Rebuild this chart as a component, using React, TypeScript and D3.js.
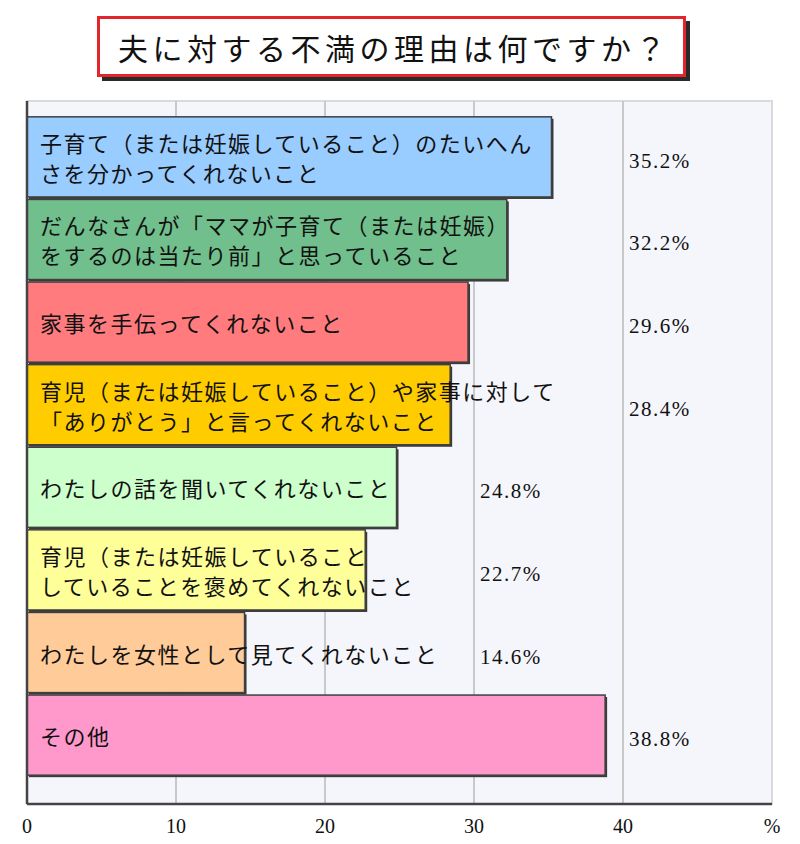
import * as d3 from 'd3';
import { useEffect, useRef } from 'react';

const TITLE = '夫に対する不満の理由は何ですか？';

const categories = ['c1', 'c2', 'c3', 'c4', 'c5', 'c6', 'c7', 'c8'];

const labelLines: string[][] = [
    ['子育て（または妊娠していること）のたいへん', 'さを分かってくれないこと'],
    ['だんなさんが「ママが子育て（または妊娠）', 'をするのは当たり前」と思っていること'],
    ['家事を手伝ってくれないこと'],
    ['育児（または妊娠していること）や家事に対して', '「ありがとう」と言ってくれないこと'],
    ['わたしの話を聞いてくれないこと'],
    ['育児（または妊娠していること', 'していることを褒めてくれないこと'],
    ['わたしを女性として見てくれないこと'],
    ['その他'],
];

const values = [35.2, 32.2, 29.6, 28.4, 24.8, 22.7, 14.6, 38.8];

const barColors = ['#99ccff', '#70bf8c', '#ff7b7e', '#ffcc00', '#ccffcc', '#ffff99', '#ffcc99', '#ff99cc'];

const xTicks = [0, 10, 20, 30, 40, 50];
const xTickLabels = ['0', '10', '20', '30', '40', '%'];

const WIDTH = 800;
const HEIGHT = 844;

const App = () => {
    const svgRef = useRef<SVGSVGElement | null>(null);

    useEffect(() => {
        if (!svgRef.current) return;
        const svg = d3.select(svgRef.current);
        svg.selectAll('*').remove();

        const plot = { left: 27, right: 772, top: 101, bottom: 804 };

        const x = d3.scaleLinear().domain([0, 50]).range([plot.left, plot.right]);
        const y = d3
            .scaleBand<string>()
            .domain(categories)
            .range([116, 776])
            .paddingInner(0.03)
            .paddingOuter(0.01);

        // Title box with shadow
        svg.append('rect')
            .attr('x', 102)
            .attr('y', 21)
            .attr('width', 588)
            .attr('height', 60)
            .attr('fill', '#2a2a2a');
        svg.append('rect')
            .attr('x', 98.5)
            .attr('y', 17.5)
            .attr('width', 586)
            .attr('height', 58)
            .attr('fill', '#ffffff')
            .attr('stroke', '#e3262b')
            .attr('stroke-width', 3);
        svg.append('text')
            .attr('x', 394)
            .attr('y', 47)
            .attr('text-anchor', 'middle')
            .attr('dominant-baseline', 'central')
            .style('font-family', '"Noto Sans CJK JP", sans-serif')
            .style('font-size', '30px')
            .style('letter-spacing', '4.5px')
            .attr('fill', '#111')
            .text(TITLE);

        // Plot background
        svg.append('rect')
            .attr('x', plot.left)
            .attr('y', plot.top)
            .attr('width', plot.right - plot.left)
            .attr('height', plot.bottom - plot.top)
            .attr('fill', '#f5f6fb')
            .attr('stroke', '#dadada')
            .attr('stroke-width', 2);

        // Vertical grid lines
        svg.append('g')
            .selectAll('line')
            .data(xTicks.slice(1, -1))
            .join('line')
            .attr('x1', (d) => x(d))
            .attr('x2', (d) => x(d))
            .attr('y1', plot.top)
            .attr('y2', plot.bottom)
            .attr('stroke', '#c9c9c9')
            .attr('stroke-width', 2);

        // Bars
        const rows = svg
            .append('g')
            .selectAll('g')
            .data(categories)
            .join('g')
            .attr('transform', (d) => `translate(0,${y(d)})`);

        rows.append('rect')
            .attr('x', x(0) + 2)
            .attr('y', 2)
            .attr('width', (_, i) => x(values[i]) - x(0))
            .attr('height', y.bandwidth())
            .attr('fill', '#3a3a3a');

        rows.append('rect')
            .attr('x', x(0))
            .attr('y', 0)
            .attr('width', (_, i) => x(values[i]) - x(0))
            .attr('height', y.bandwidth())
            .attr('fill', (_, i) => barColors[i])
            .attr('stroke', '#404040')
            .attr('stroke-width', 1.5);

        // Labels inside bars
        rows.each(function (_, i) {
            const lines = labelLines[i];
            const mid = y.bandwidth() / 2;
            const gap = 30;
            const start = mid - ((lines.length - 1) * gap) / 2;
            d3.select(this)
                .selectAll('text.cat')
                .data(lines)
                .join('text')
                .attr('class', 'cat')
                .attr('x', x(0) + 13)
                .attr('y', (_, j) => start + j * gap)
                .attr('dominant-baseline', 'central')
                .style('font-family', '"Noto Sans CJK JP", sans-serif')
                .style('font-size', '22px')
                .style('letter-spacing', '1.5px')
                .attr('fill', '#111')
                .text((t) => t);
        });

        // Value labels
        rows.append('text')
            .attr('x', (_, i) => x(values[i] > 25 ? 40 : 30) + 6)
            .attr('y', y.bandwidth() / 2 + 4)
            .attr('dominant-baseline', 'central')
            .style('font-family', '"Liberation Serif", serif')
            .style('font-size', '21px')
            .style('letter-spacing', '1.5px')
            .attr('fill', '#111')
            .text((_, i) => `${values[i].toFixed(1)}%`);

        // Axes lines
        svg.append('line')
            .attr('x1', plot.left)
            .attr('x2', plot.left)
            .attr('y1', plot.top)
            .attr('y2', plot.bottom)
            .attr('stroke', '#444')
            .attr('stroke-width', 2.5);
        svg.append('line')
            .attr('x1', plot.left)
            .attr('x2', plot.right)
            .attr('y1', plot.bottom)
            .attr('y2', plot.bottom)
            .attr('stroke', '#444')
            .attr('stroke-width', 2.5);

        // Tick labels
        svg.append('g')
            .selectAll('text')
            .data(xTicks)
            .join('text')
            .attr('x', (d) => x(d))
            .attr('y', 826)
            .attr('text-anchor', 'middle')
            .attr('dominant-baseline', 'central')
            .style('font-family', '"Liberation Serif", serif')
            .style('font-size', '20px')
            .attr('fill', '#111')
            .text((_, i) => xTickLabels[i]);
    }, []);

    return (
        <svg
            ref={svgRef}
            width={WIDTH}
            height={HEIGHT}
            style={{ position: 'absolute', left: 0, top: 0, display: 'block', background: '#fff' }}
        ></svg>
    );
};

export default App;
